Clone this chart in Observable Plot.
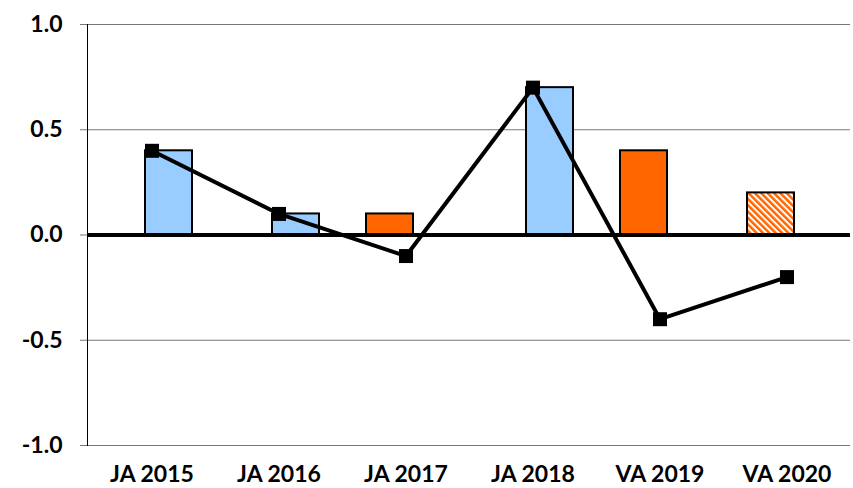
<!DOCTYPE html>
<html>
<head>
<meta charset="utf-8">
<script src="https://cdn.jsdelivr.net/npm/d3@7"></script>
<script src="https://cdn.jsdelivr.net/npm/@observablehq/plot@0.6"></script>
<style>
  html, body { margin: 0; padding: 0; background: #fff; }
  #chart { width: 853px; height: 488px; }
</style>
</head>
<body>
<div id="chart"></div>
<script>
const categories = ["JA 2015", "JA 2016", "JA 2017", "JA 2018", "VA 2019", "VA 2020"];
const barValues = [0.4, 0.1, 0.1, 0.7, 0.4, 0.2];
const barSeries = ["blue", "blue", "orange", "blue", "orange", "hatched"];
const lineValues = [0.4, 0.1, -0.1, 0.7, -0.4, -0.2];
const yTicks = [-1.0, -0.5, 0.0, 0.5, 1.0];

const bars = categories.map((c, i) => ({category: c, value: barValues[i], series: barSeries[i]}));
const line = categories.map((c, i) => ({category: c, value: lineValues[i]}));

const fills = {blue: "#99CCFF", orange: "#FF6600", hatched: "url(#hatch)"};
const blueBars = bars.filter(d => d.series === "blue");
const orangeBars = bars.filter(d => d.series !== "blue");

const font = "Lato, 'Open Sans', sans-serif";

const chart = Plot.plot({
  width: 853,
  height: 488,
  marginLeft: 87,
  marginRight: 3,
  marginTop: 24,
  marginBottom: 43,
  style: {fontFamily: font, background: "white"},
  x: {domain: categories, padding: 0, label: null},
  y: {domain: [-1, 1], label: null},
  marks: [
    Plot.gridY(yTicks, {stroke: "#777", strokeOpacity: 1, strokeWidth: 1}),
    Plot.axisY(yTicks, {
      tickSize: 7, tickPadding: 18, stroke: "#777",
      tickFormat: d => d.toFixed(1),
      fontSize: 23, fontWeight: "bold", fill: "black", label: null
    }),
    Plot.axisX({tickSize: 0, tickPadding: 20, fontSize: 23, fontWeight: "bold", fill: "black", label: null}),
    Plot.frame({anchor: "left", stroke: "black", strokeWidth: 1}),
    Plot.barY(blueBars, {
      x: "category", y: "value", fill: d => fills[d.series],
      stroke: "black", strokeWidth: 2, insetLeft: 57, insetRight: 23
    }),
    Plot.barY(orangeBars, {
      x: "category", y: "value", fill: d => fills[d.series],
      stroke: "black", strokeWidth: 2, insetLeft: 24, insetRight: 56
    }),
    Plot.ruleY([0], {stroke: "black", strokeWidth: 4}),
    Plot.line(line, {x: "category", y: "value", stroke: "black", strokeWidth: 4}),
    Plot.dot(line, {x: "category", y: "value", symbol: "square", r: 7.9, fill: "black", stroke: "none"})
  ]
});

// hatch pattern definition
const svg = d3.select(chart);
const defs = svg.insert("defs", ":first-child");
const pat = defs.append("pattern")
  .attr("id", "hatch")
  .attr("patternUnits", "userSpaceOnUse")
  .attr("width", 4.5).attr("height", 4.5)
  .attr("patternTransform", "rotate(-45)");
pat.append("rect").attr("width", 4.5).attr("height", 4.5).attr("fill", "white");
pat.append("rect").attr("width", 2.5).attr("height", 4.5).attr("fill", "#FF6600");

document.getElementById("chart").appendChild(chart);
</script>
</body>
</html>
